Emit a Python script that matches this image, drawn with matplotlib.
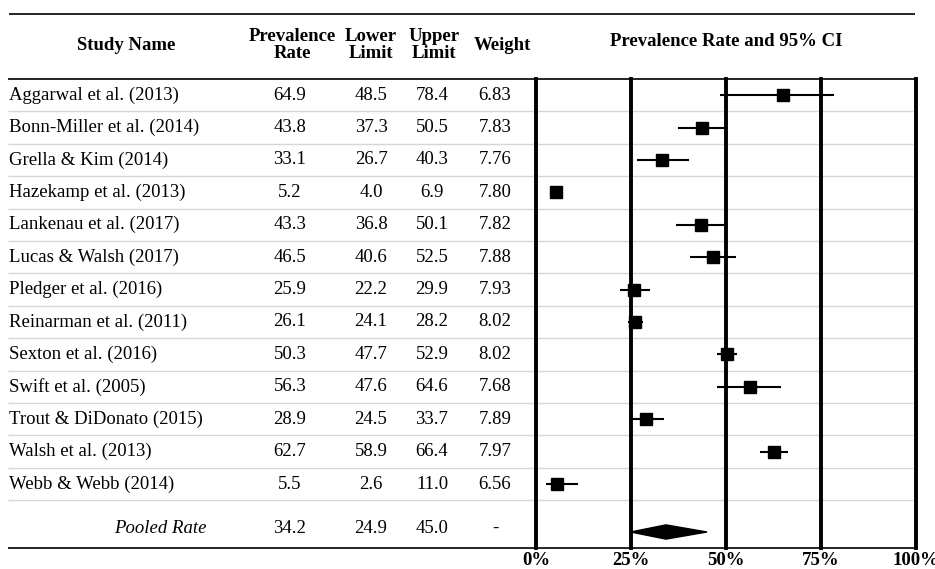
"""
Forest plot: pooled prevalence rate across studies, table on the left,
estimates with 95% CI on the right.
"""
import matplotlib
matplotlib.use("Agg")
import matplotlib.pyplot as plt

studies = [
    "Aggarwal et al. (2013)", "Bonn-Miller et al. (2014)", "Grella & Kim (2014)",
    "Hazekamp et al. (2013)", "Lankenau et al. (2017)", "Lucas & Walsh (2017)",
    "Pledger et al. (2016)", "Reinarman et al. (2011)", "Sexton et al. (2016)",
    "Swift et al. (2005)", "Trout & DiDonato (2015)", "Walsh et al. (2013)",
    "Webb & Webb (2014)",
]
rate = [64.9, 43.8, 33.1, 5.2, 43.3, 46.5, 25.9, 26.1, 50.3, 56.3, 28.9, 62.7, 5.5]
lower = [48.5, 37.3, 26.7, 4.0, 36.8, 40.6, 22.2, 24.1, 47.7, 47.6, 24.5, 58.9, 2.6]
upper = [78.4, 50.5, 40.3, 6.9, 50.1, 52.5, 29.9, 28.2, 52.9, 64.6, 33.7, 66.4, 11.0]
weight = [6.83, 7.83, 7.76, 7.80, 7.82, 7.88, 7.93, 8.02, 8.02, 7.68, 7.89, 7.97, 6.56]

pooled_label = "Pooled Rate"
pooled = (34.2, 24.9, 45.0)

ticks = [0, 25, 50, 75, 100]
tick_labels = ["0%", "25%", "50%", "75%", "100%"]

W, H = 935, 569
ROW = 32.4      # row height in px
TOP = 79        # header rule in px


def row(px):
    """pixel y -> row units"""
    return (px - TOP) / ROW - 0.5


SERIF = ["Liberation Serif", "DejaVu Serif"]
FS = 13.5

fig = plt.figure(figsize=(W / 100, H / 100), dpi=100)

# table layer, x in pixels, y in row units
tab = fig.add_axes([0, 0, 1, 1])
tab.set_xlim(0, W)
tab.set_ylim(row(H), row(0))
tab.axis("off")

# forest layer
fx0, fx1, fy1 = 536, 916, 548
fa = fig.add_axes([fx0 / W, 1 - fy1 / H, (fx1 - fx0) / W, (fy1 - TOP) / H])
fa.set_xlim(0, 100)
fa.set_ylim(row(fy1), row(TOP))
fa.set_facecolor("none")
for s in fa.spines.values():
    s.set_visible(False)
fa.set_yticks([])
fa.set_xticks(ticks)
fa.set_xticklabels(tick_labels, fontfamily=SERIF, fontsize=FS, fontweight="bold")
fa.tick_params(axis="x", length=0, pad=3)

# rules and row separators
tab.hlines(row(14), 9, 915, color="black", lw=1.2)
tab.hlines(row(TOP), 8, 916, color="black", lw=1.2)
tab.hlines(row(fy1), 8, 916, color="black", lw=1.2)
n = len(studies)
tab.hlines([i + 0.5 for i in range(n)], 8, 913, color="#d6d6d6", lw=1.0)

for t in ticks:
    fa.axvline(t, color="black", lw=2.8, clip_on=False, zorder=2)

# headers
hdr = dict(fontfamily=SERIF, fontsize=FS, fontweight="bold", ha="center", va="center")
tab.text(126, row(45), "Study Name", **hdr)
tab.text(292, row(45), "Prevalence\nRate", linespacing=0.95, **hdr)
tab.text(371, row(45), "Lower\nLimit", linespacing=0.95, **hdr)
tab.text(434, row(45), "Upper\nLimit", linespacing=0.95, **hdr)
tab.text(502, row(45), "Weight", **hdr)
tab.text(726, row(41), "Prevalence Rate and 95% CI", **hdr)

# table body
body = dict(fontfamily=SERIF, fontsize=FS, va="center")
cols = [290, 371, 432, 495]
for i in range(n):
    tab.text(9, i, studies[i], ha="left", **body)
    vals = [f"{rate[i]:.1f}", f"{lower[i]:.1f}", f"{upper[i]:.1f}", f"{weight[i]:.2f}"]
    for x, v in zip(cols, vals):
        tab.text(x, i, v, ha="center", **body)

py = row(528)
tab.text(207, py, pooled_label, ha="right", style="italic", **body)
for x, v in zip(cols, [f"{pooled[0]:.1f}", f"{pooled[1]:.1f}", f"{pooled[2]:.1f}", "-"]):
    tab.text(x, py, v, ha="center", **body)

# estimates
ys = list(range(n))
err = [[r - lo for r, lo in zip(rate, lower)], [hi - r for r, hi in zip(rate, upper)]]
fa.errorbar(rate, ys, xerr=err, fmt="s", color="black", ms=8.5, elinewidth=1.5,
            capsize=0, zorder=3)

# pooled diamond
dy = row(532)
h = 0.22
est, lo, hi = pooled
fa.fill([lo, est, hi, est], [dy, dy - h, dy, dy + h], color="black", zorder=3)

fig.savefig("out.png", dpi=100)
